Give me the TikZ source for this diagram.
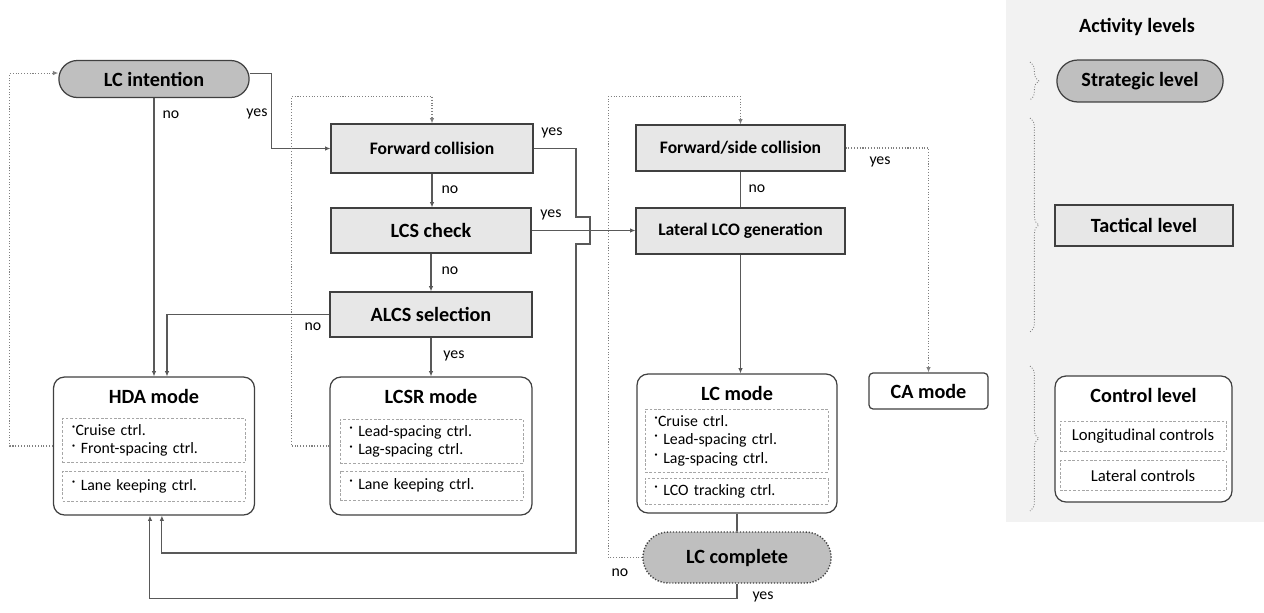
\documentclass[tikz,border=0pt]{standalone}
\usepackage{fontspec}
\setmainfont{Carlito}
\usetikzlibrary{arrows.meta,shapes.misc,decorations.pathreplacing}

\definecolor{pillgray}{HTML}{BFBFBF}
\definecolor{boxgray}{HTML}{E7E7E7}
\definecolor{panelgray}{HTML}{F2F2F2}
\definecolor{edgegray}{HTML}{404040}
\definecolor{linegray}{HTML}{595959}

\newcommand\titlefont{\fontsize{11.5}{13}\selectfont\bfseries}
\newcommand\midfont{\fontsize{10}{12}\selectfont\bfseries}
\newcommand\itemfont{\fontsize{9}{10.6}\selectfont}
\newcommand\dotitem{\raisebox{0.5ex}{·}}

\tikzset{
	pill/.style={rounded rectangle, draw=edgegray, line width=0.7pt, fill=pillgray, font=\titlefont},
	check/.style={rectangle, draw=edgegray, line width=0.7pt, fill=boxgray},
	mode/.style={rectangle, rounded corners=0.22cm, draw=edgegray, line width=0.7pt, fill=white},
	ctrlbox/.style={rectangle, draw=gray!70, dash pattern=on 1.5pt off 1pt, line width=0.4pt, minimum width=3.66cm, text width=3.3cm, align=left, font=\itemfont},
	lvlbox/.style={rectangle, draw=gray!70, dash pattern=on 1.5pt off 1pt, line width=0.4pt, minimum width=3.32cm, minimum height=0.6cm, font=\fontsize{9.5}{11}\selectfont},
	flow/.style={draw=linegray, line width=0.6pt},
	flowarrow/.style={flow, -{Latex[length=3pt,width=2.6pt]}},
	backline/.style={draw=gray, line width=0.6pt, densely dotted, -{Latex[length=3pt,width=2.6pt]}},
	lbl/.style={font=\itemfont},
	lvlbrace/.style={draw=gray, line width=0.5pt, densely dotted, decorate, decoration={brace, amplitude=5pt}}
}

\begin{document}
\begin{tikzpicture}[x=0.02cm, y=-0.02cm]

	\useasboundingbox (0,0) rectangle (1264,612);
	
	% activity levels panel
	\fill[panelgray] (1006,0) rectangle (1264,522);
	
	% strategic and tactical steps
	\node[pill, minimum width=4.04cm, minimum height=0.74cm] (intent) at (154,79) {LC intention};
	\node[check, font=\midfont, minimum width=4.04cm, minimum height=0.98cm] (fwd) at (432,148.5) {Forward collision};
	\node[check, font=\titlefont, minimum width=4.0cm, minimum height=0.9cm] (lcs) at (431,230.5) {LCS check};
	\node[check, font=\titlefont, minimum width=4.04cm, minimum height=0.9cm] (alcs) at (431,314.5) {ALCS selection};
	\node[check, font=\midfont, minimum width=4.18cm, minimum height=0.92cm] (fsc) at (740.5,148) {Forward/side collision};
	\node[check, font=\midfont, minimum width=4.18cm, minimum height=0.92cm] (lco) at (740.5,231) {Lateral LCO generation};
	
	% control modes
	\node[mode, minimum width=4.02cm, minimum height=2.76cm] (hda) at (154,446) {};
	\node[font=\titlefont] (hdatitle) at (154,396) {HDA mode};
	\node[ctrlbox, minimum height=0.86cm] (hdalong) at (154,440.5) {\dotitem Cruise ctrl.\\\dotitem\ Front-spacing ctrl.};
	\node[ctrlbox, minimum height=0.6cm] (hdalat) at (154,486) {\dotitem\ Lane keeping ctrl.};
	
	\node[mode, minimum width=4.04cm, minimum height=2.76cm] (lcsr) at (431,446) {};
	\node[font=\titlefont] (lcsrtitle) at (431,396) {LCSR mode};
	\node[ctrlbox, minimum height=0.86cm] (lcsrlong) at (431.5,441.5) {\dotitem\ Lead-spacing ctrl.\\\dotitem\ Lag-spacing ctrl.};
	\node[ctrlbox, minimum height=0.58cm] (lcsrlat) at (431.5,485.5) {\dotitem\ Lane keeping ctrl.};
	
	\node[mode, minimum width=4.0cm, minimum height=2.78cm] (lcm) at (737,443.5) {};
	\node[font=\titlefont] (lcmtitle) at (737,393) {LC mode};
	\node[ctrlbox, minimum height=1.26cm] (lcmlong) at (736.5,440.5) {\dotitem Cruise ctrl.\\\dotitem\ Lead-spacing ctrl.\\\dotitem\ Lag-spacing ctrl.};
	\node[ctrlbox, minimum height=0.52cm] (lcmlat) at (736.5,491) {\dotitem\ LCO tracking ctrl.};
	
	\node[pill, densely dotted, line width=0.8pt, minimum width=4.0cm, minimum height=1.02cm] (lcc) at (737,557.5) {LC complete};
	\node[mode, rounded corners=0.08cm, font=\titlefont, minimum width=2.38cm, minimum height=0.72cm] (ca) at (928.5,391) {CA mode};
	
	% legend
	\node[font=\titlefont] (acttitle) at (1137,27) {Activity levels};
	\node[pill, minimum width=3.56cm, minimum height=0.84cm] (strat) at (1140,81) {Strategic level};
	\node[check, font=\titlefont, minimum width=3.56cm, minimum height=0.82cm] (tact) at (1144,225.5) {Tactical level};
	\node[mode, minimum width=3.54cm, minimum height=2.52cm] (ctrl) at (1143.5,439) {};
	\node[font=\titlefont] (ctrltitle) at (1143.5,395) {Control level};
	\node[lvlbox] (ctrllong) at (1143,436) {Longitudinal controls};
	\node[lvlbox] (ctrllat) at (1143,475.5) {Lateral controls};
	
	\draw[lvlbrace] (1030,62) -- (1030,100);
	\draw[lvlbrace] (1030,118) -- (1030,332);
	\draw[lvlbrace] (1030,366) -- (1030,511);
	
	% connectors
	\draw[backline] (hda.west) -- ++(-43,0) |- ([yshift=3.4pt]intent.west);
	\draw[flowarrow] (intent.south) -- (hda.north);
	\draw[flowarrow] ([yshift=3.4pt]intent.east) -- ++(22,0) |- (fwd.west);
	
	\draw[backline] (lcsr.west) -- ++(-38,0) |- ([yshift=15.3pt]fwd.north) -- (fwd.north);
	\draw[flowarrow] (fwd.south) -- (fwd.south |- lcs.north);
	\draw[flowarrow] (fwd.east) -| (576,217) -- (590,217) -- (590,244) -- (576,244) -- (576,553) -| ([xshift=4.5pt]hda.south);
	\draw[flowarrow] (lcs.east) -- (lcs.east -| lco.west);
	\draw[flowarrow] (lcs.south) -- (lcs.south |- alcs.north);
	\draw[flowarrow] (alcs.west) -| ([xshift=7.4pt]hda.north);
	\draw[flowarrow] (alcs.south) -- (alcs.south |- lcsr.north);
	
	\draw[backline] (lcc.west) -- ++(-34,0) |- ([yshift=15.9pt]fsc.north) -- (fsc.north);
	\draw[flow] (fsc.south) -- (lco.north);
	\draw[backline] (fsc.east) -| (ca.north);
	\draw[flowarrow] (lco.south) -- (lco.south |- lcm.north);
	\draw[flow] (lcm.south) -- (lcm.south |- lcc.north);
	\draw[flowarrow] (lcc.south) -- ++(0,15) -| ([xshift=-2.3pt]hda.south);
	
	% branch labels
	\node[lbl] (intentno) at (171,115) {no};
	\node[lbl] (intentyes) at (257,114) {yes};
	\node[lbl] (fwdyes) at (552,133) {yes};
	\node[lbl] (fwdno) at (450,190) {no};
	\node[lbl] (lcsyes) at (551,215) {yes};
	\node[lbl] (lcsno) at (450,271) {no};
	\node[lbl] (alcsno) at (313,327) {no};
	\node[lbl] (alcsyes) at (454,356) {yes};
	\node[lbl] (fscno) at (757,189) {no};
	\node[lbl] (fscyes) at (880,162) {yes};
	\node[lbl] (lccno) at (620,573) {no};
	\node[lbl] (lccyes) at (763,597) {yes};
	
\end{tikzpicture}
\end{document}
